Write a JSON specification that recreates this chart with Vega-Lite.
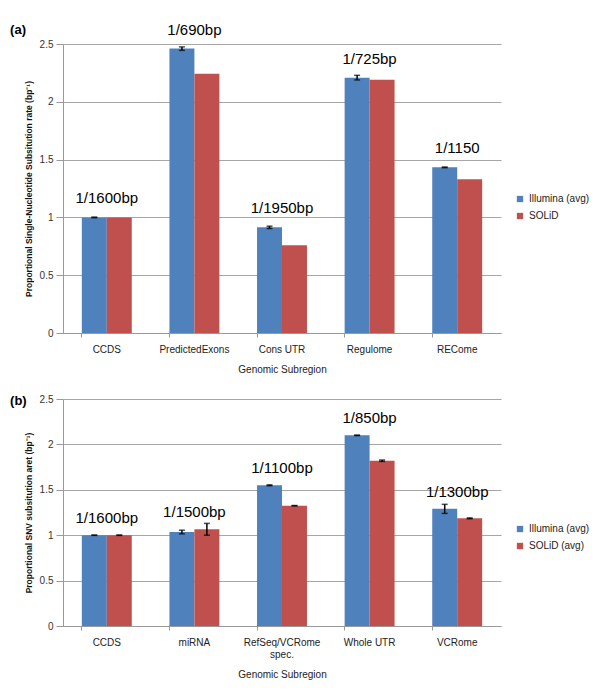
{
  "$schema": "https://vega.github.io/schema/vega-lite/v6.json",
  "padding": {"left": 10, "top": 22, "right": 5, "bottom": 5},
  "spacing": 20,
  "config": {
    "font": "Liberation Sans",
    "view": {"stroke": null},
    "axisX": {"domainColor": "#999999", "tickColor": "#999999", "ticks": true, "bandPosition": 0, "tickSize": 4, "labelAngle": 0, "labelFontSize": 10, "labelColor": "#222222", "labelPadding": 7, "titleFontSize": 10, "titleFontWeight": "normal", "titleColor": "#222222", "titlePadding": 10, "grid": false},
    "axisY": {"domainColor": "#999999", "tickColor": "#999999", "tickSize": 7, "gridColor": "#a6a6a6", "labelFontSize": 10, "labelColor": "#333333", "labelPadding": 3, "titleFontSize": 8.5, "titleFontWeight": "bold", "titleColor": "#111111", "titlePadding": 6},
    "legend": {"labelFontSize": 10, "labelColor": "#222222", "symbolType": "square", "symbolSize": 40, "symbolStrokeWidth": 0, "rowPadding": 7, "title": null},
    "tick": {"thickness": 1.5, "color": "#000000"}
  },
  "datasets": {
    "a": [
      {"region": "CCDS", "platform": "Illumina (avg)", "value": 1.0, "lo": 0.997, "hi": 1.003, "label": "1/1600bp"},
      {"region": "CCDS", "platform": "SOLiD", "value": 1.0, "lo": null, "hi": null, "label": "1/1600bp"},
      {"region": "PredictedExons", "platform": "Illumina (avg)", "value": 2.46, "lo": 2.445, "hi": 2.475, "label": "1/690bp"},
      {"region": "PredictedExons", "platform": "SOLiD", "value": 2.243, "lo": null, "hi": null, "label": "1/690bp"},
      {"region": "Cons UTR", "platform": "Illumina (avg)", "value": 0.914, "lo": 0.904, "hi": 0.924, "label": "1/1950bp"},
      {"region": "Cons UTR", "platform": "SOLiD", "value": 0.759, "lo": null, "hi": null, "label": "1/1950bp"},
      {"region": "Regulome", "platform": "Illumina (avg)", "value": 2.209, "lo": 2.189, "hi": 2.229, "label": "1/725bp"},
      {"region": "Regulome", "platform": "SOLiD", "value": 2.19, "lo": null, "hi": null, "label": "1/725bp"},
      {"region": "RECome", "platform": "Illumina (avg)", "value": 1.433, "lo": 1.43, "hi": 1.436, "label": "1/1150"},
      {"region": "RECome", "platform": "SOLiD", "value": 1.33, "lo": null, "hi": null, "label": "1/1150"}
    ],
    "b": [
      {"region": "CCDS", "platform": "Illumina (avg)", "value": 1.0, "lo": 0.998, "hi": 1.002, "label": "1/1600bp"},
      {"region": "CCDS", "platform": "SOLiD (avg)", "value": 1.0, "lo": 0.998, "hi": 1.002, "label": "1/1600bp"},
      {"region": "miRNA", "platform": "Illumina (avg)", "value": 1.035, "lo": 1.015, "hi": 1.055, "label": "1/1500bp"},
      {"region": "miRNA", "platform": "SOLiD (avg)", "value": 1.065, "lo": 1.0, "hi": 1.13, "label": "1/1500bp"},
      {"region": "RefSeq/VCRome spec.", "platform": "Illumina (avg)", "value": 1.55, "lo": 1.545, "hi": 1.555, "label": "1/1100bp"},
      {"region": "RefSeq/VCRome spec.", "platform": "SOLiD (avg)", "value": 1.325, "lo": 1.323, "hi": 1.327, "label": "1/1100bp"},
      {"region": "Whole UTR", "platform": "Illumina (avg)", "value": 2.1, "lo": 2.097, "hi": 2.103, "label": "1/850bp"},
      {"region": "Whole UTR", "platform": "SOLiD (avg)", "value": 1.82, "lo": 1.812, "hi": 1.828, "label": "1/850bp"},
      {"region": "VCRome", "platform": "Illumina (avg)", "value": 1.29, "lo": 1.24, "hi": 1.34, "label": "1/1300bp"},
      {"region": "VCRome", "platform": "SOLiD (avg)", "value": 1.186, "lo": 1.181, "hi": 1.191, "label": "1/1300bp"}
    ]
  },
  "vconcat": [
    {
      "width": 438,
      "height": 289,
      "title": {"text": "(a)", "anchor": "start", "frame": "bounds", "fontSize": 13, "fontWeight": "bold", "offset": -14, "dx": -14, "color": "#000000"},
      "data": {"name": "a"},
      "encoding": {
        "x": {"field": "region", "type": "nominal", "sort": null, "title": "Genomic Subregion", "scale": {"type": "band", "paddingInner": 0.43, "paddingOuter": 0.215}},
        "y": {"type": "quantitative", "scale": {"domain": [0, 2.5]}, "title": "Proportional Single-Nucleotide  Subsitution rate (bp\u207b\u00b9)", "axis": {"values": [0, 0.5, 1, 1.5, 2, 2.5], "format": "~g"}}
      },
      "layer": [
        {
          "mark": {"type": "bar"},
          "encoding": {
            "xOffset": {"field": "platform", "type": "nominal", "sort": null, "scale": {"paddingInner": 0, "paddingOuter": 0}},
            "y": {"field": "value", "type": "quantitative"},
            "color": {"field": "platform", "type": "nominal", "sort": null, "scale": {"range": ["#4F81BD", "#C0504D"]}, "legend": {"orient": "none", "legendX": 452, "legendY": 150}}
          }
        },
        {
          "transform": [{"filter": "datum.lo != null"}],
          "mark": {"type": "rule", "color": "#000000", "strokeWidth": 1.5},
          "encoding": {
            "xOffset": {"field": "platform", "type": "nominal", "sort": null},
            "y": {"field": "lo", "type": "quantitative"},
            "y2": {"field": "hi"}
          }
        },
        {
          "transform": [{"filter": "datum.lo != null"}],
          "mark": {"type": "tick", "orient": "horizontal", "size": 6},
          "encoding": {
            "xOffset": {"field": "platform", "type": "nominal", "sort": null},
            "y": {"field": "lo", "type": "quantitative"}
          }
        },
        {
          "transform": [{"filter": "datum.lo != null"}],
          "mark": {"type": "tick", "orient": "horizontal", "size": 6},
          "encoding": {
            "xOffset": {"field": "platform", "type": "nominal", "sort": null},
            "y": {"field": "hi", "type": "quantitative"}
          }
        },
        {
          "transform": [{"aggregate": [{"op": "max", "field": "value", "as": "top"}], "groupby": ["region", "label"]}],
          "mark": {"type": "text", "fontSize": 15, "dy": -14, "baseline": "alphabetic", "color": "#000000"},
          "encoding": {
            "y": {"field": "top", "type": "quantitative"},
            "text": {"field": "label"}
          }
        }
      ]
    },
    {
      "width": 438,
      "height": 227,
      "title": {"text": "(b)", "anchor": "start", "frame": "bounds", "fontSize": 13, "fontWeight": "bold", "offset": -14, "dx": -14, "color": "#000000"},
      "data": {"name": "b"},
      "encoding": {
        "x": {"field": "region", "type": "nominal", "sort": null, "title": "Genomic Subregion", "scale": {"type": "band", "paddingInner": 0.43, "paddingOuter": 0.215}, "axis": {"labelExpr": "datum.label == 'RefSeq/VCRome spec.' ? ['RefSeq/VCRome', 'spec.'] : datum.label"}},
        "y": {"type": "quantitative", "scale": {"domain": [0, 2.5]}, "title": "Proportional SNV subsitution aret (bp\u207b\u00b9)", "axis": {"values": [0, 0.5, 1, 1.5, 2, 2.5], "format": "~g"}}
      },
      "layer": [
        {
          "mark": {"type": "bar"},
          "encoding": {
            "xOffset": {"field": "platform", "type": "nominal", "sort": null, "scale": {"paddingInner": 0, "paddingOuter": 0}},
            "y": {"field": "value", "type": "quantitative"},
            "color": {"field": "platform", "type": "nominal", "sort": null, "scale": {"range": ["#4F81BD", "#C0504D"]}, "legend": {"orient": "none", "legendX": 452, "legendY": 125}}
          }
        },
        {
          "mark": {"type": "rule", "color": "#000000", "strokeWidth": 1.5},
          "encoding": {
            "xOffset": {"field": "platform", "type": "nominal", "sort": null},
            "y": {"field": "lo", "type": "quantitative"},
            "y2": {"field": "hi"}
          }
        },
        {
          "mark": {"type": "tick", "orient": "horizontal", "size": 6},
          "encoding": {
            "xOffset": {"field": "platform", "type": "nominal", "sort": null},
            "y": {"field": "lo", "type": "quantitative"}
          }
        },
        {
          "mark": {"type": "tick", "orient": "horizontal", "size": 6},
          "encoding": {
            "xOffset": {"field": "platform", "type": "nominal", "sort": null},
            "y": {"field": "hi", "type": "quantitative"}
          }
        },
        {
          "transform": [{"aggregate": [{"op": "max", "field": "value", "as": "top"}], "groupby": ["region", "label"]}],
          "mark": {"type": "text", "fontSize": 15, "dy": -12, "baseline": "alphabetic", "color": "#000000"},
          "encoding": {
            "y": {"field": "top", "type": "quantitative"},
            "text": {"field": "label"}
          }
        }
      ]
    }
  ],
  "resolve": {"scale": {"color": "independent", "xOffset": "independent", "x": "independent", "y": "independent"}, "legend": {"color": "independent"}}
}
